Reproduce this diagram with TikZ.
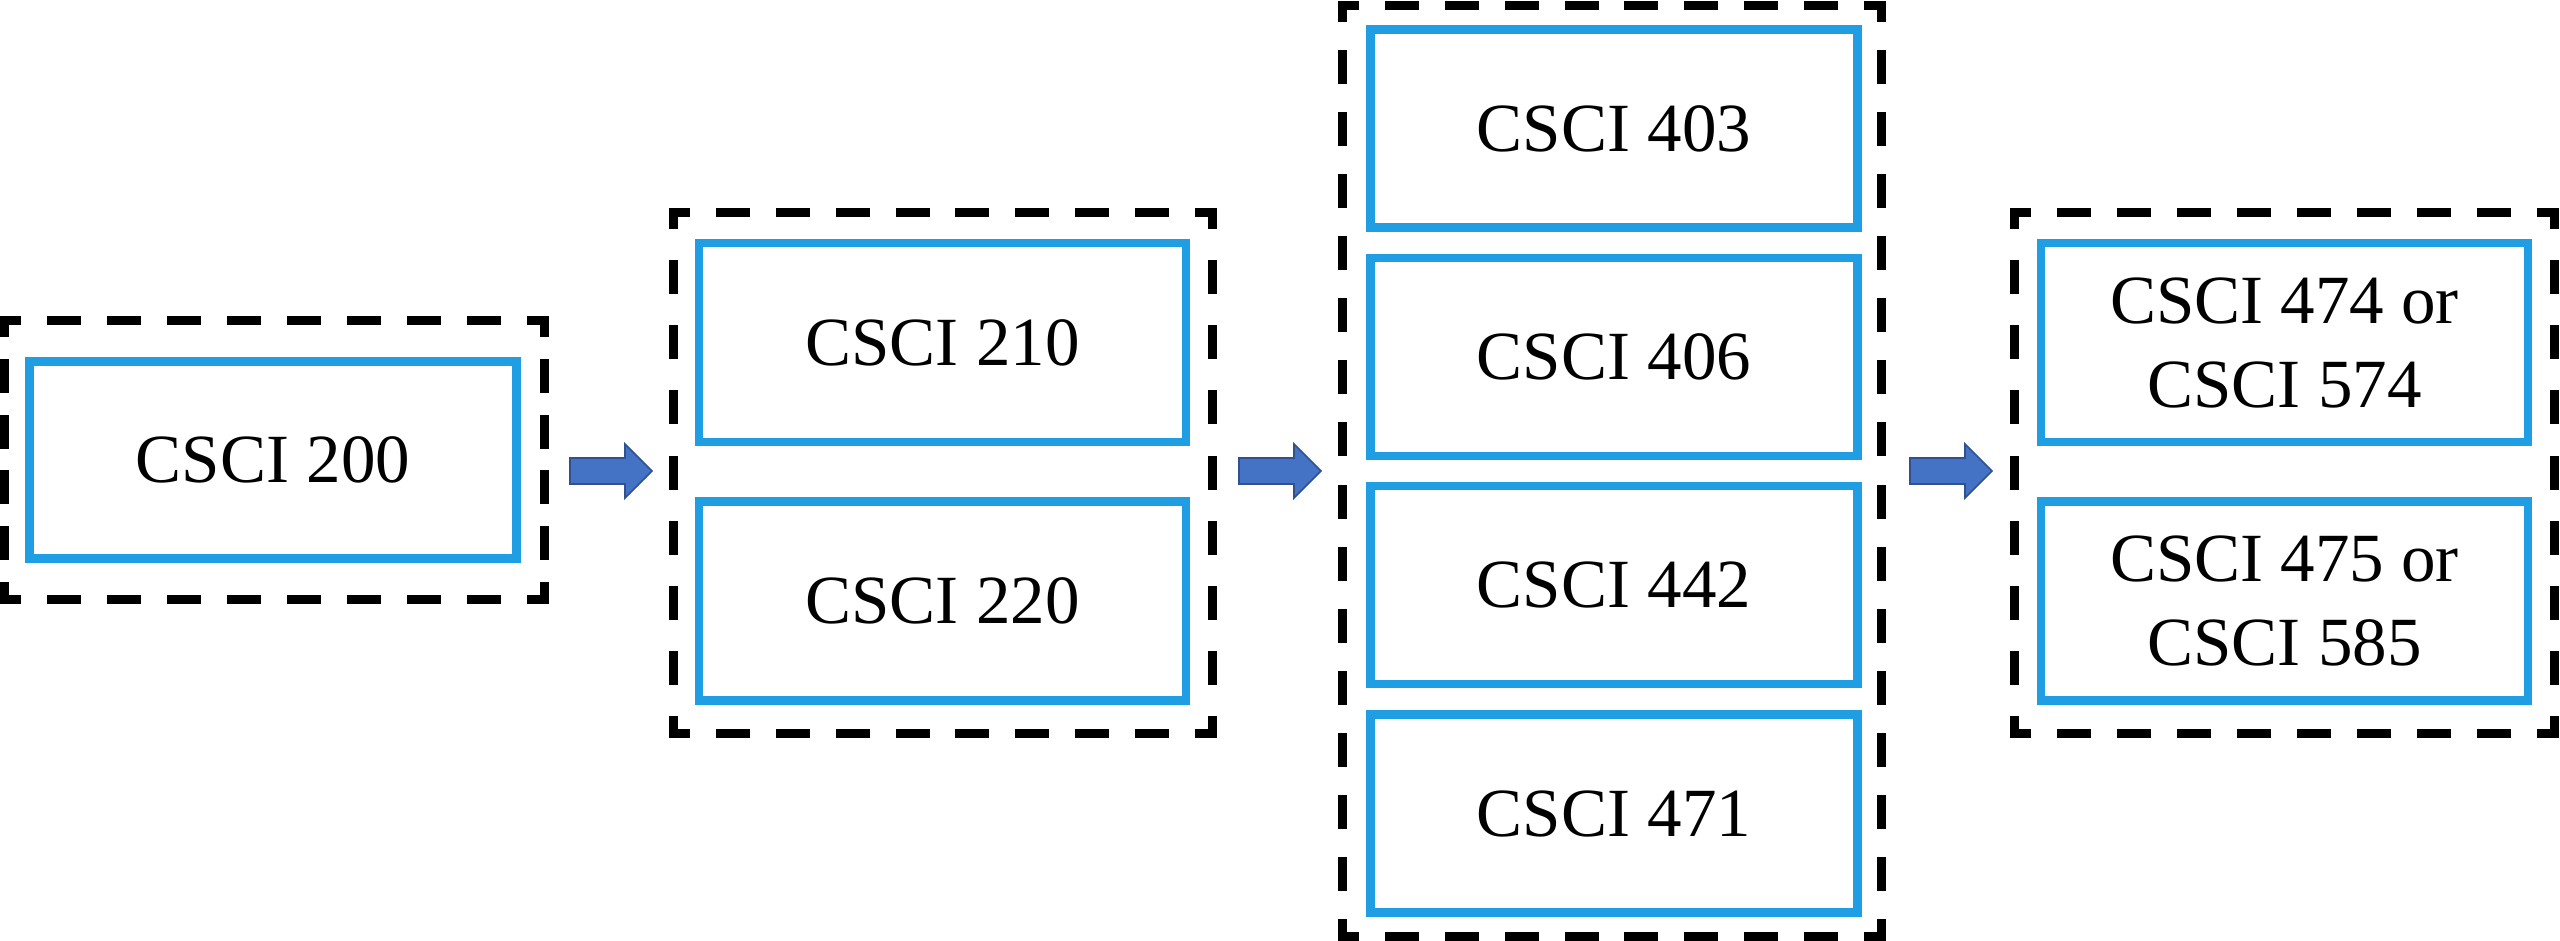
\documentclass[tikz,border=0pt]{standalone}
\usepackage{fontspec}
\setmainfont{Liberation Serif}
\definecolor{cblue}{RGB}{32,158,228}
\definecolor{ablue}{RGB}{68,114,196}
\definecolor{aborder}{RGB}{47,82,143}
% #1 node name, #2 width (px), #3 height (px)
\newcommand\dashedframe[3]{%
  \pgfmathsetmacro\framenx{max(1,round(#2/62))}%
  \pgfmathsetmacro\frameny{max(1,round(#3/62))}%
  \pgfmathsetmacro\frameoffx{(#2/\framenx-25)*0.3}%
  \pgfmathsetmacro\frameoffy{(#3/\frameny-25)*0.3}%
  \draw[groupline, dash pattern=on 7.5pt off \frameoffx pt] (#1.north west) -- (#1.north east);
  \draw[groupline, dash pattern=on 7.5pt off \frameoffy pt] (#1.north east) -- (#1.south east);
  \draw[groupline, dash pattern=on 7.5pt off \frameoffx pt] (#1.south east) -- (#1.south west);
  \draw[groupline, dash pattern=on 7.5pt off \frameoffy pt] (#1.south west) -- (#1.north west);}
\begin{document}
\begin{tikzpicture}[x=0.3pt,y=-0.3pt,
  course/.style={draw=cblue, line width=2.55pt, minimum width=146pt, minimum height=59.7pt,
    inner sep=0pt, align=center, font=\fontsize{20.7}{25.2}\selectfont},
  group/.style={inner sep=0pt, outer sep=0pt},
  groupline/.style={draw=black, line width=2.7pt, line cap=rect, dash phase=3.75pt},
  blockarrow/.style={fill=ablue, draw=aborder, line width=0.5pt}]
\useasboundingbox (0,0) rectangle (2560,940);
% groups
\node[group, minimum width=162pt, minimum height=83.7pt] (g1) at (274,459.5) {};
\node[group, minimum width=161.7pt, minimum height=156.3pt] (g2) at (942.5,472.5) {};
\node[group, minimum width=161.7pt, minimum height=279.3pt] (g3) at (1611.5,470.5) {};
\node[group, minimum width=162pt, minimum height=156.3pt] (g4) at (2284,472.5) {};
\dashedframe{g1}{540}{279}
\dashedframe{g2}{539}{521}
\dashedframe{g3}{539}{931}
\dashedframe{g4}{540}{521}
% courses
\node[course, minimum height=59.1pt] (c200) at (273,460) {CSCI 200};
\node[course] (c210) at (942.5,342.5) {CSCI 210};
\node[course] (c220) at (942.5,601) {CSCI 220};
\node[course, minimum height=59.4pt] (c403) at (1614,128.5) {CSCI 403};
\node[course, minimum height=59.4pt] (c406) at (1614,356.8) {CSCI 406};
\node[course, minimum height=59.4pt] (c442) at (1614,585.2) {CSCI 442};
\node[course, minimum height=59.4pt] (c471) at (1614,813.5) {CSCI 471};
\node[course] (c474) at (2284.5,342.5) {CSCI 474 or\\CSCI 574};
\node[course] (c475) at (2284.5,601) {CSCI 475 or\\CSCI 585};
% block arrows
\coordinate (a1) at (570,471);
\coordinate (a2) at (1239,471);
\coordinate (a3) at (1910,471);
\foreach \a in {a1,a2,a3}{
  \draw[blockarrow, shift={(\a)}] (0,-13) -- (55,-13) -- (55,-27) -- (82,0) -- (55,27) -- (55,13) -- (0,13) -- cycle;
}
\end{tikzpicture}
\end{document}
